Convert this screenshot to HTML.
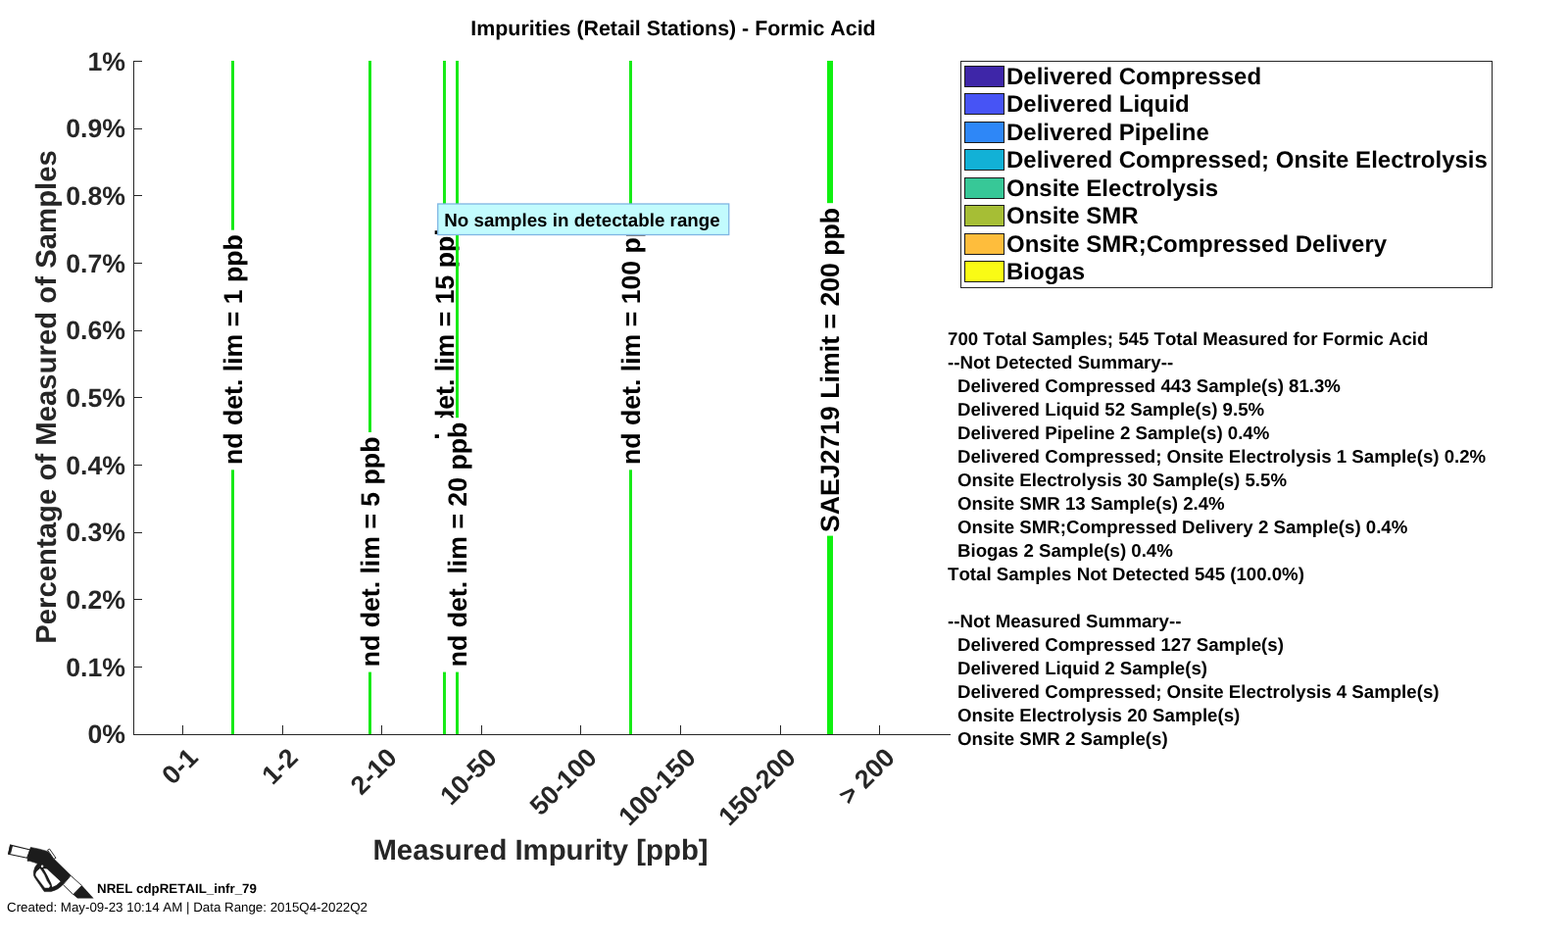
<!DOCTYPE html>
<html><head><meta charset="utf-8"><title>Impurities (Retail Stations) - Formic Acid</title>
<style>
html,body{margin:0;padding:0;background:#fff}
svg{display:block}
text{font-family:"Liberation Sans",Arial,sans-serif;font-weight:700;fill:#000;font-kerning:none;text-rendering:geometricPrecision}
.ax{fill:#262626}
.g{stroke:#00f000;stroke-width:2.6}
.wb{fill:#fff}
.sw{stroke:#1a1a1a;stroke-width:1}
</style></head><body>
<svg width="1600" height="960" viewBox="0 0 1600 960">
<rect width="1600" height="960" fill="#fff"/>
<!-- title -->
<text x="687" y="36" font-size="21.38" text-anchor="middle">Impurities (Retail Stations) - Formic Acid</text>

<!-- axes -->
<g fill="#262626" shape-rendering="crispEdges">
<rect x="136" y="62" width="1" height="688"/>
<rect x="136" y="749" width="834" height="1"/>
<rect x="136" y="62" width="9" height="1"/>
<rect x="136" y="131" width="9" height="1"/>
<rect x="136" y="199" width="9" height="1"/>
<rect x="136" y="268" width="9" height="1"/>
<rect x="136" y="337" width="9" height="1"/>
<rect x="136" y="405" width="9" height="1"/>
<rect x="136" y="474" width="9" height="1"/>
<rect x="136" y="543" width="9" height="1"/>
<rect x="136" y="611" width="9" height="1"/>
<rect x="136" y="680" width="9" height="1"/>
<rect x="186" y="740" width="1" height="9"/>
<rect x="288" y="740" width="1" height="9"/>
<rect x="389" y="740" width="1" height="9"/>
<rect x="491" y="740" width="1" height="9"/>
<rect x="592" y="740" width="1" height="9"/>
<rect x="694" y="740" width="1" height="9"/>
<rect x="796" y="740" width="1" height="9"/>
<rect x="897" y="740" width="1" height="9"/>
</g>

<!-- y tick labels -->
<g class="ax" font-size="26.67" text-anchor="end">
<text class="ax" x="128" y="71.7">1%</text>
<text class="ax" x="128" y="140.4">0.9%</text>
<text class="ax" x="128" y="209.0">0.8%</text>
<text class="ax" x="128" y="277.7">0.7%</text>
<text class="ax" x="128" y="346.4">0.6%</text>
<text class="ax" x="128" y="415.1">0.5%</text>
<text class="ax" x="128" y="483.7">0.4%</text>
<text class="ax" x="128" y="552.4">0.3%</text>
<text class="ax" x="128" y="621.1">0.2%</text>
<text class="ax" x="128" y="689.7">0.1%</text>
<text class="ax" x="128" y="758.4">0%</text>
</g>

<!-- x tick labels -->
<g font-size="26.67" text-anchor="end">
<text class="ax" transform="translate(203.5 774.5) rotate(-45)">0-1</text>
<text class="ax" transform="translate(305.5 774.5) rotate(-45)">1-2</text>
<text class="ax" transform="translate(406.5 774.5) rotate(-45)">2-10</text>
<text class="ax" transform="translate(508.5 774.5) rotate(-45)">10-50</text>
<text class="ax" transform="translate(610.5 774.5) rotate(-45)">50-100</text>
<text class="ax" transform="translate(711.5 774.5) rotate(-45)">100-150</text>
<text class="ax" transform="translate(813.5 774.5) rotate(-45)">150-200</text>
<text class="ax" transform="translate(914.5 774.5) rotate(-45)">&gt; 200</text>
</g>

<!-- axis labels -->
<text class="ax" x="551.5" y="877.4" font-size="29.33" text-anchor="middle">Measured Impurity [ppb]</text>
<text class="ax" transform="translate(57 405) rotate(-90)" font-size="29.33" text-anchor="middle">Percentage of Measured of Samples</text>

<!-- rotated line labels -->
<g font-size="26.67">
<rect x="236" y="62" width="3" height="687" fill="#18ea18" shape-rendering="crispEdges"/>
<rect class="wb" x="219.0" y="234.7" width="37" height="244.6"/>
<text transform="translate(246.5 474.0) rotate(-90)">nd det. lim = 1 ppb</text>
<rect x="376" y="62" width="3" height="687" fill="#18ea18" shape-rendering="crispEdges"/>
<rect class="wb" x="359.0" y="441.0" width="37" height="244.6"/>
<text transform="translate(386.5 680.3) rotate(-90)">nd det. lim = 5 ppb</text>
<rect x="452" y="62" width="3" height="687" fill="#18ea18" shape-rendering="crispEdges"/>
<rect class="wb" x="435.0" y="219.9" width="37" height="259.4"/>
<text transform="translate(462.5 474.0) rotate(-90)">nd det. lim = 15 ppb</text>
<rect x="465" y="62" width="3" height="687" fill="#18ea18" shape-rendering="crispEdges"/>
<rect class="wb" x="448.0" y="426.2" width="37" height="259.4"/>
<text transform="translate(475.5 680.3) rotate(-90)">nd det. lim = 20 ppb</text>
<rect x="642" y="62" width="3" height="687" fill="#18ea18" shape-rendering="crispEdges"/>
<rect class="wb" x="625.0" y="208.5" width="37" height="270.8"/>
<text transform="translate(652.5 474.0) rotate(-90)">nd det. lim = 100 ppb</text>
<rect x="844" y="62" width="6" height="687" fill="#10f010" shape-rendering="crispEdges"/>
<rect class="wb" x="828.5" y="207.2" width="37" height="339.4"/>
<text transform="translate(856.0 543.0) rotate(-90)">SAEJ2719 Limit = 200 ppb</text>
</g>

<!-- annotation box -->
<rect x="446.75" y="208" width="297" height="31.5" fill="#c2fbfd" stroke="#7fb5e3" stroke-width="1.3"/>
<text x="453.3" y="230.8" font-size="18.76">No samples in detectable range</text>

<!-- legend -->
<rect x="980.5" y="62.5" width="542" height="231" fill="#fff" stroke="#262626" stroke-width="1" shape-rendering="crispEdges"/>
<g class="sw" shape-rendering="crispEdges">
<rect x="984.5" y="67.5" width="40" height="21" fill="#3e26a8"/>
<rect x="984.5" y="95.5" width="40" height="21" fill="#4754f5"/>
<rect x="984.5" y="124.5" width="40" height="21" fill="#2e87f7"/>
<rect x="984.5" y="152.5" width="40" height="21" fill="#12b1d6"/>
<rect x="984.5" y="181.5" width="40" height="21" fill="#37c897"/>
<rect x="984.5" y="209.5" width="40" height="21" fill="#a6be35"/>
<rect x="984.5" y="238.5" width="40" height="21" fill="#febd3c"/>
<rect x="984.5" y="266.5" width="40" height="21" fill="#f9fb15"/>
</g>
<g font-size="24">
<text x="1027" y="86.4">Delivered Compressed</text>
<text x="1027" y="114.4">Delivered Liquid</text>
<text x="1027" y="143.4">Delivered Pipeline</text>
<text x="1027" y="171.4">Delivered Compressed; Onsite Electrolysis</text>
<text x="1027" y="200.4">Onsite Electrolysis</text>
<text x="1027" y="228.4">Onsite SMR</text>
<text x="1027" y="257.4">Onsite SMR;Compressed Delivery</text>
<text x="1027" y="285.4">Biogas</text>
</g>

<!-- summary -->
<g font-size="18.67" style="white-space:pre">
<text x="967" y="352">700 Total Samples; 545 Total Measured for Formic Acid</text>
<text x="967" y="376">--Not Detected Summary--</text>
<text x="977" y="400">Delivered Compressed 443 Sample(s) 81.3%</text>
<text x="977" y="424">Delivered Liquid 52 Sample(s) 9.5%</text>
<text x="977" y="448">Delivered Pipeline 2 Sample(s) 0.4%</text>
<text x="977" y="472">Delivered Compressed; Onsite Electrolysis 1 Sample(s) 0.2%</text>
<text x="977" y="496">Onsite Electrolysis 30 Sample(s) 5.5%</text>
<text x="977" y="520">Onsite SMR 13 Sample(s) 2.4%</text>
<text x="977" y="544">Onsite SMR;Compressed Delivery 2 Sample(s) 0.4%</text>
<text x="977" y="568">Biogas 2 Sample(s) 0.4%</text>
<text x="967" y="592">Total Samples Not Detected 545 (100.0%)</text>
<text x="967" y="640">--Not Measured Summary--</text>
<text x="977" y="664">Delivered Compressed 127 Sample(s)</text>
<text x="977" y="688">Delivered Liquid 2 Sample(s)</text>
<text x="977" y="712">Delivered Compressed; Onsite Electrolysis 4 Sample(s)</text>
<text x="977" y="736">Onsite Electrolysis 20 Sample(s)</text>
<text x="977" y="760">Onsite SMR 2 Sample(s)</text>
</g>

<!-- footer -->
<text x="99" y="911" font-size="13.33">NREL cdpRETAIL_infr_79</text>
<text x="7" y="930" font-size="13.33" style="font-weight:400">Created: May-09-23 10:14 AM | Data Range: 2015Q4-2022Q2</text>

<!-- nozzle icon -->
<g id="nozzle" stroke-linejoin="round">
<path d="M10.6 862.1L31 867L27.6 875.3L8.6 871.3Z" fill="#fff" stroke="#1c1c1c" stroke-width="1.1"/>
<path d="M10.3 861.6L13 863L11.1 870.4L8.1 871.6Z" fill="#1c1c1c"/>
<path d="M31.25 864.4L40 866.2L48.1 868.4L52.5 871.5L55.3 876.6L72.2 893.1L64.1 902.5Q60 907.6 52 909.6L45.2 909.6L35.4 895.2Q33.9 892.6 34.3 889.4Q35.2 884.4 38.3 881.1L35.6 880.1L30 878.3L28.1 878.4L28.1 875.6L29.5 870Z" fill="#1c1c1c" stroke="#1c1c1c" stroke-width="0.6"/>
<path d="M40.9 886.3Q36.6 889 36.5 892.2Q36.6 893.4 37.6 894.8L45.75 905.5L49.9 905.5L51 903.75L47.6 898.5L45 892.5L42.4 888.4Z" fill="#fff" stroke="#fff" stroke-width="0.5"/>
<path d="M44.3 886.1L48 886.5L61.7 899.2Q58.6 902.9 53.3 904.9L52.4 901.5L48.5 893.5Z" fill="#fff"/>
<circle cx="43.1" cy="883.7" r="1.2" fill="#fff"/>
<path d="M48.5 867.2L50.6 866.1L57 875.3L54.9 876.4Z" fill="#fff" stroke="#1c1c1c" stroke-width="0.9"/>
<path d="M72.2 893.3L83.5 903.5L74.7 912.6L64.3 902.5Z" fill="#fff" stroke="#1c1c1c" stroke-width="0.9"/>
<path d="M83.75 903.4L95.6 916.6L79.1 916.6L74.7 912.8Z" fill="#1c1c1c"/>
</g>
</svg>
</body></html>
